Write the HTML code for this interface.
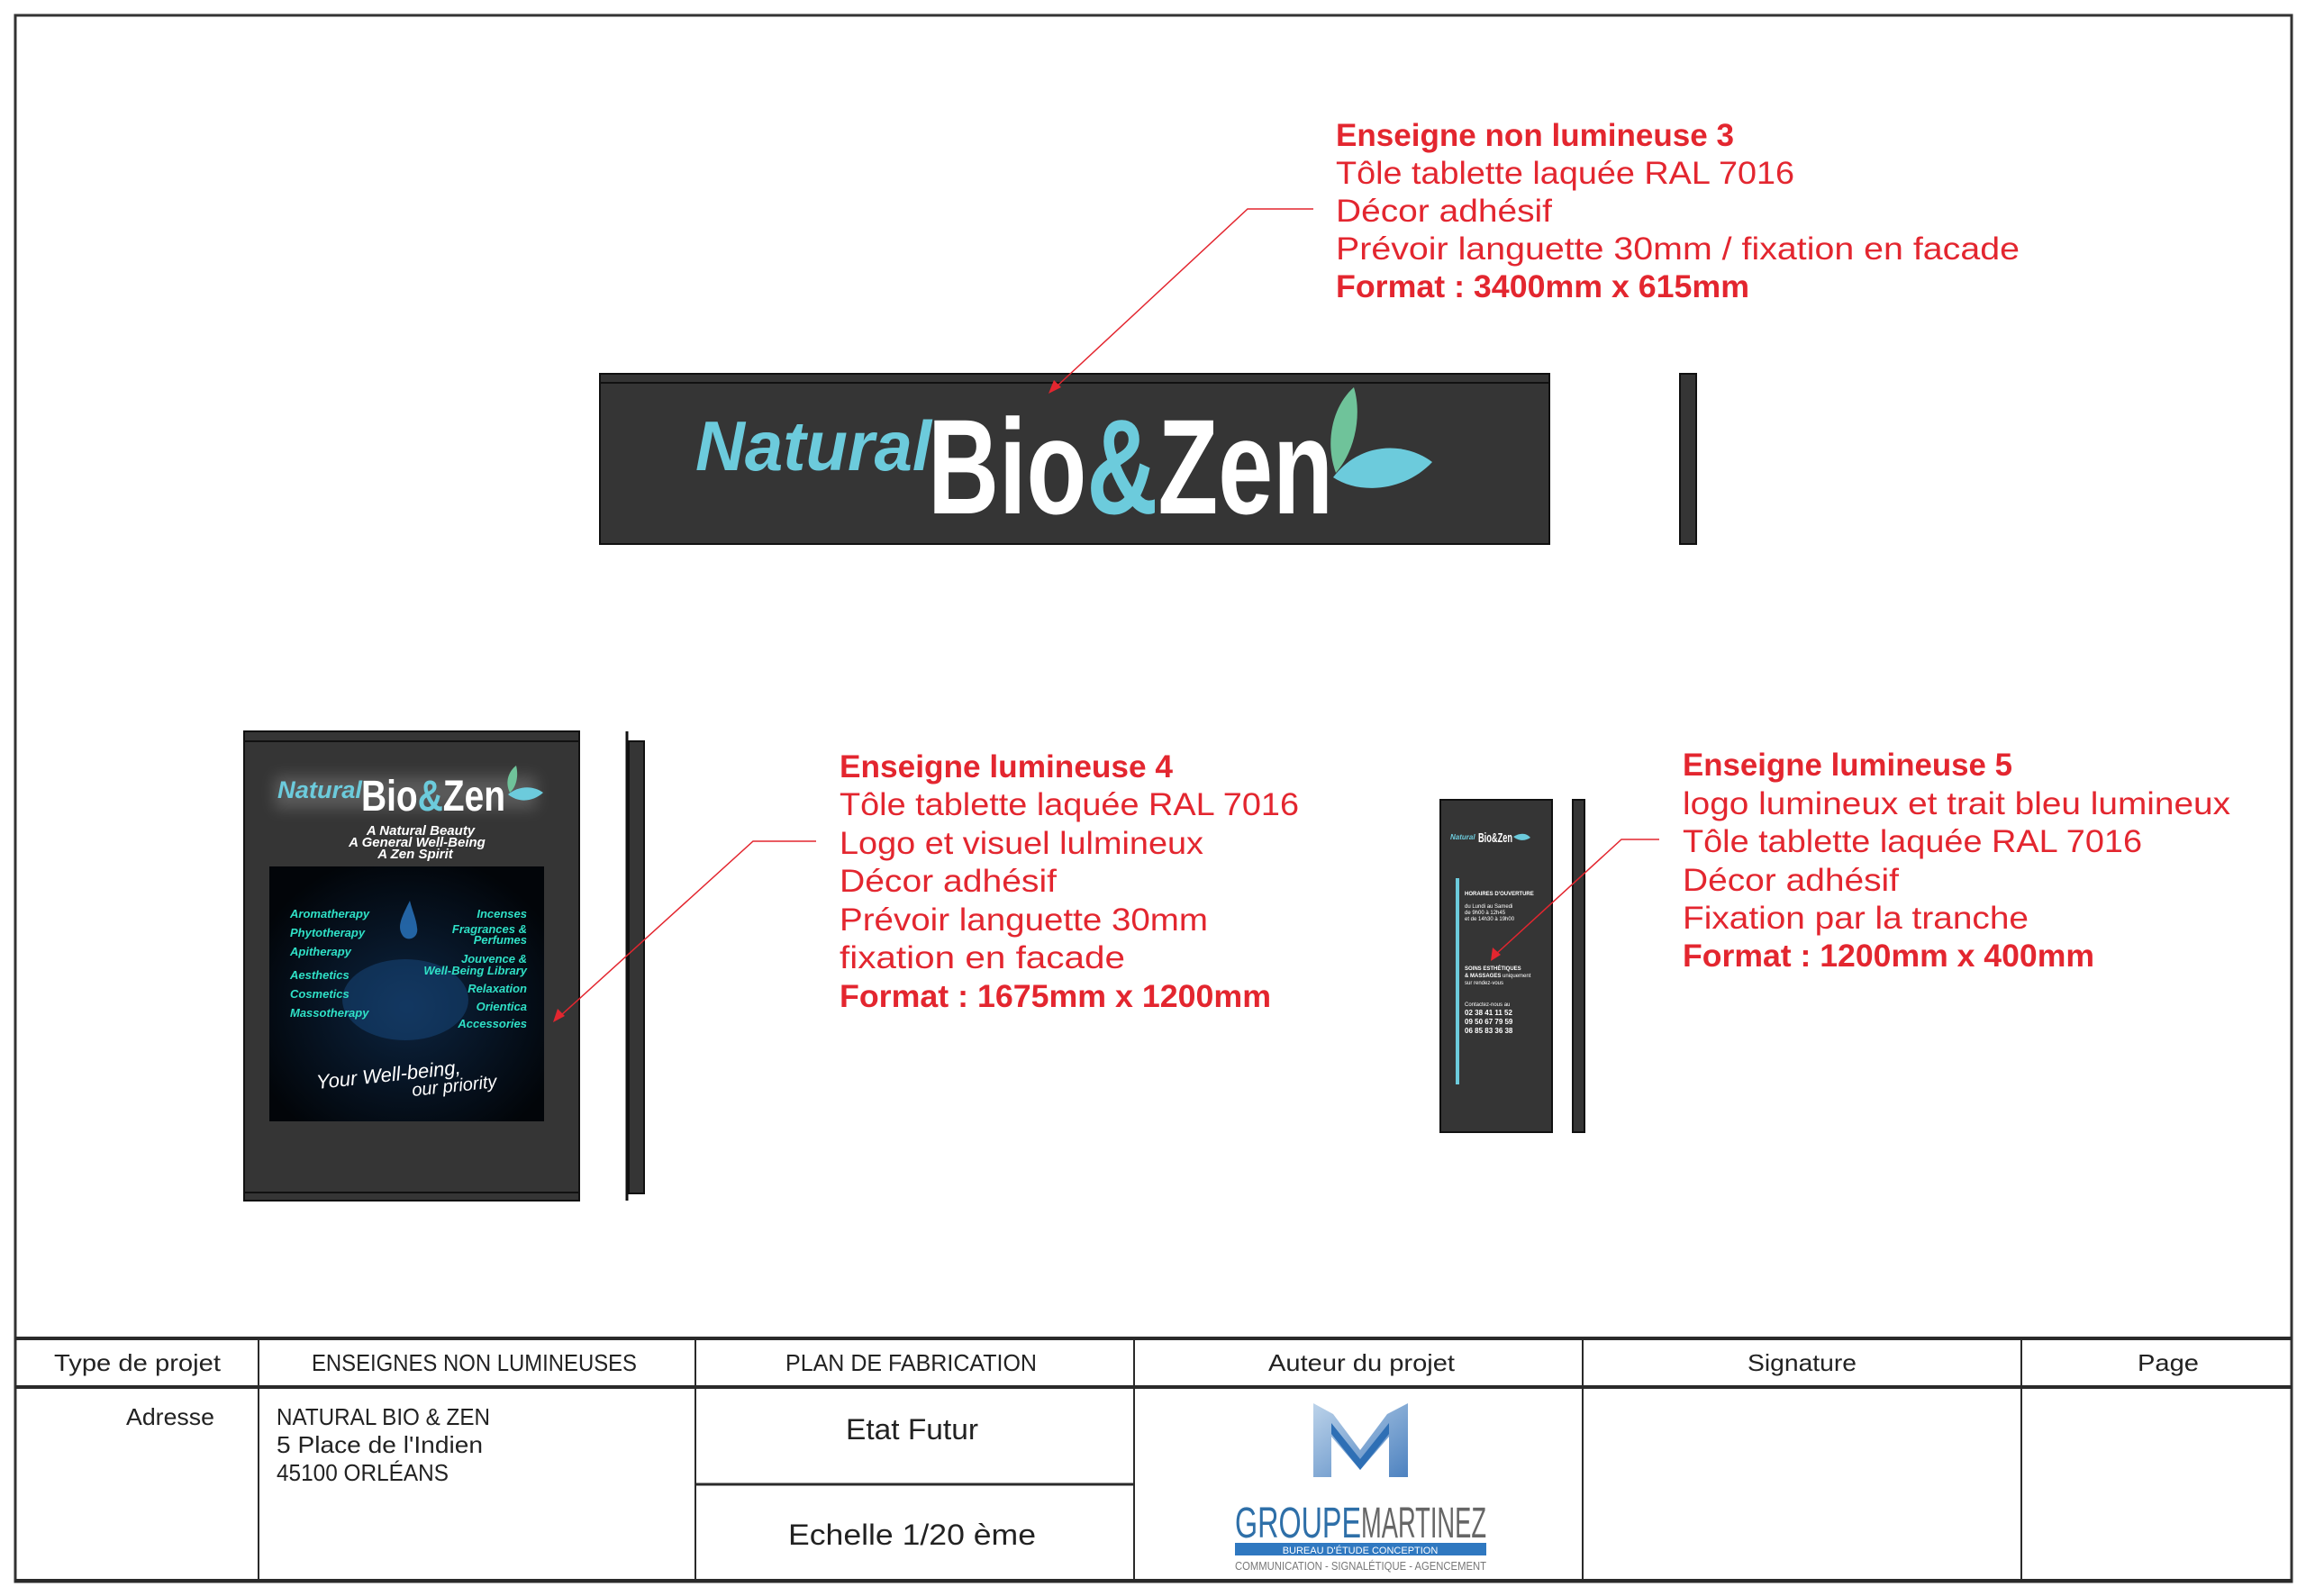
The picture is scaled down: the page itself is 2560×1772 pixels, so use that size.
<!DOCTYPE html>
<html><head><meta charset="utf-8"><style>
html,body{margin:0;padding:0;background:#fff}
svg{display:block}
text{font-family:"Liberation Sans","DejaVu Sans",sans-serif}
</style></head><body>
<svg width="2560" height="1772" viewBox="0 0 2560 1772" xmlns="http://www.w3.org/2000/svg">
<defs>
<radialGradient id="vis" cx="50%" cy="55%" r="60%"><stop offset="0" stop-color="#0c2440"/><stop offset="1" stop-color="#020509"/></radialGradient>
<filter id="glow" x="-20%" y="-50%" width="140%" height="200%"><feGaussianBlur stdDeviation="8"/></filter>
<linearGradient id="mg" x1="0" y1="0" x2="1" y2="1"><stop offset="0" stop-color="#bcd3ea"/><stop offset="1" stop-color="#4d82c0"/></linearGradient>
</defs>
<rect x="17" y="17" width="2527" height="1739" fill="none" stroke="#333" stroke-width="3"/>

<!-- SIGN 3 -->
<rect x="666" y="415" width="1054" height="189" fill="#353535" stroke="#111" stroke-width="2"/>
<line x1="666" y1="425" x2="1720" y2="425" stroke="#111" stroke-width="2"/>
<text x="772" y="522" font-size="78" font-style="italic" font-weight="bold" fill="#6ccbdc" textLength="262" lengthAdjust="spacingAndGlyphs">Natural</text>
<text x="1030" y="570" font-size="150" font-weight="bold" fill="#fff" textLength="450" lengthAdjust="spacingAndGlyphs">Bio<tspan fill="#6ccbdc">&amp;</tspan>Zen</text>
<path d="M1483 525 C1470 490 1480 450 1503 430 C1512 460 1505 500 1483 525Z" fill="#6fc39a"/>
<path d="M1480 530 C1510 490 1560 490 1590 513 C1560 545 1510 550 1480 530Z" fill="#6ccbdc"/>
<rect x="1865" y="415" width="18" height="189" fill="#353535" stroke="#111" stroke-width="2"/>

<!-- SIGN 4 -->
<rect x="271" y="812" width="372" height="521" fill="#353535" stroke="#111" stroke-width="2"/>
<line x1="271" y1="823" x2="643" y2="823" stroke="#111" stroke-width="2"/>
<line x1="271" y1="1324" x2="643" y2="1324" stroke="#111" stroke-width="2"/>
<g filter="url(#glow)" opacity="0.18"><rect x="305" y="862" width="290" height="36" fill="#fff"/></g>
<text x="308" y="886" font-size="27" font-style="italic" font-weight="bold" fill="#6ccbdc" textLength="94" lengthAdjust="spacingAndGlyphs">Natural</text>
<text x="401" y="900" font-size="48" font-weight="bold" fill="#fff" textLength="160" lengthAdjust="spacingAndGlyphs">Bio<tspan fill="#6ccbdc">&amp;</tspan>Zen</text>
<path d="M566 880 C560 868 565 856 573 850 C576 862 573 874 566 880Z" fill="#6fc39a"/>
<path d="M564 882 C576 872 592 872 603 880 C592 890 576 892 564 882Z" fill="#6ccbdc"/>
<g font-size="15" font-weight="bold" font-style="italic" fill="#fff" text-anchor="middle">
<text x="467" y="927">A Natural Beauty</text>
<text x="463" y="940">A General Well-Being</text>
<text x="461" y="953">A Zen Spirit</text>
</g>
<rect x="299" y="962" width="305" height="283" fill="url(#vis)"/>
<ellipse cx="450" cy="1110" rx="70" ry="45" fill="#1b4f8a" opacity="0.45"/>
<path d="M455 1000 C445 1020 440 1030 448 1040 C455 1046 465 1040 463 1030 C462 1020 458 1012 455 1000Z" fill="#2a78c4" opacity="0.8"/>
<g font-size="13" font-weight="bold" font-style="italic" fill="#2fe0c6">
<text x="322" y="1019">Aromatherapy</text>
<text x="322" y="1040">Phytotherapy</text>
<text x="322" y="1061">Apitherapy</text>
<text x="322" y="1087">Aesthetics</text>
<text x="322" y="1108">Cosmetics</text>
<text x="322" y="1129">Massotherapy</text>
<g text-anchor="end">
<text x="585" y="1019">Incenses</text>
<text x="585" y="1036">Fragrances &amp;</text>
<text x="585" y="1048">Perfumes</text>
<text x="585" y="1069">Jouvence &amp;</text>
<text x="585" y="1082">Well-Being Library</text>
<text x="585" y="1102">Relaxation</text>
<text x="585" y="1122">Orientica</text>
<text x="585" y="1141">Accessories</text>
</g></g>
<g font-family="Liberation Serif,serif" font-style="italic" fill="#fff">
<text x="352" y="1209" font-size="22" transform="rotate(-6 352 1209)">Your Well-being,</text>
<text x="458" y="1217" font-size="20" transform="rotate(-6 458 1217)">our priority</text>
</g>
<rect x="698" y="823" width="17" height="502" fill="#353535" stroke="#111" stroke-width="2"/>
<line x1="696" y1="812" x2="696" y2="1333" stroke="#111" stroke-width="3"/>

<!-- SIGN 5 -->
<rect x="1599" y="888" width="124" height="369" fill="#353535" stroke="#111" stroke-width="2"/>
<text x="1610" y="932" font-size="8" font-style="italic" font-weight="bold" fill="#6ccbdc">Natural</text>
<text x="1641" y="935" font-size="15" font-weight="bold" fill="#fff" textLength="38" lengthAdjust="spacingAndGlyphs">Bio&amp;Zen</text>
<path d="M1680 929 C1688 924 1695 925 1699 930 C1693 934 1686 934 1680 929Z" fill="#6ccbdc"/>
<rect x="1616" y="975" width="4" height="229" fill="#6ccbdc"/>
<g font-size="6" fill="#fff">
<text x="1626" y="994" font-weight="bold">HORAIRES D'OUVERTURE</text>
<text x="1626" y="1008">du Lundi au Samedi</text>
<text x="1626" y="1015">de 9h00 à 12h45</text>
<text x="1626" y="1022">et de 14h30 à 19h00</text>
<text x="1626" y="1077" font-weight="bold">SOINS ESTHÉTIQUES</text>
<text x="1626" y="1085"><tspan font-weight="bold">&amp; MASSAGES</tspan> uniquement</text>
<text x="1626" y="1093">sur rendez-vous</text>
<text x="1626" y="1117">Contactez-nous au</text>
<text x="1626" y="1127" font-size="8" font-weight="bold">02 38 41 11 52</text>
<text x="1626" y="1137" font-size="8" font-weight="bold">09 50 67 79 59</text>
<text x="1626" y="1147" font-size="8" font-weight="bold">06 85 83 36 38</text>
</g>
<rect x="1746" y="888" width="13" height="369" fill="#353535" stroke="#111" stroke-width="2"/>

<!-- LEADERS -->
<g stroke="#e3262f" stroke-width="1.5" fill="none">
<polyline points="1458,232 1385,232 1172,430"/>
<polyline points="906,934 836,934 622,1128"/>
<polyline points="1842,932 1800,932 1660,1060"/>
</g>
<g fill="#e3262f">
<polygon points="1164,437 1170,422 1178,430"/>
<polygon points="614,1135 619,1120 627,1128"/>
<polygon points="1655,1067 1657,1052 1666,1060"/>
</g>

<!-- TEXT -->
<g fill="#e3262f" font-size="35">
<text x="1483" y="162" font-weight="bold" textLength="442" lengthAdjust="spacingAndGlyphs">Enseigne non lumineuse 3</text>
<text x="1483" y="204" textLength="509" lengthAdjust="spacingAndGlyphs">Tôle tablette laquée RAL 7016</text>
<text x="1483" y="246" textLength="240" lengthAdjust="spacingAndGlyphs">Décor adhésif</text>
<text x="1483" y="288" textLength="759" lengthAdjust="spacingAndGlyphs">Prévoir languette 30mm / fixation en facade</text>
<text x="1483" y="330" font-weight="bold" textLength="459" lengthAdjust="spacingAndGlyphs">Format : 3400mm x 615mm</text>

<text x="932" y="863" font-weight="bold" textLength="370" lengthAdjust="spacingAndGlyphs">Enseigne lumineuse 4</text>
<text x="932" y="905" textLength="510" lengthAdjust="spacingAndGlyphs">Tôle tablette laquée RAL 7016</text>
<text x="932" y="948" textLength="404" lengthAdjust="spacingAndGlyphs">Logo et visuel lulmineux</text>
<text x="932" y="990" textLength="241" lengthAdjust="spacingAndGlyphs">Décor adhésif</text>
<text x="932" y="1033" textLength="409" lengthAdjust="spacingAndGlyphs">Prévoir languette 30mm</text>
<text x="932" y="1075" textLength="317" lengthAdjust="spacingAndGlyphs">fixation en facade</text>
<text x="932" y="1118" font-weight="bold" textLength="479" lengthAdjust="spacingAndGlyphs">Format : 1675mm x 1200mm</text>

<text x="1868" y="861" font-weight="bold" textLength="366" lengthAdjust="spacingAndGlyphs">Enseigne lumineuse 5</text>
<text x="1868" y="904" textLength="608" lengthAdjust="spacingAndGlyphs">logo lumineux et trait bleu lumineux</text>
<text x="1868" y="946" textLength="510" lengthAdjust="spacingAndGlyphs">Tôle tablette laquée RAL 7016</text>
<text x="1868" y="989" textLength="240" lengthAdjust="spacingAndGlyphs">Décor adhésif</text>
<text x="1868" y="1031" textLength="384" lengthAdjust="spacingAndGlyphs">Fixation par la tranche</text>
<text x="1868" y="1073" font-weight="bold" textLength="457" lengthAdjust="spacingAndGlyphs">Format : 1200mm x 400mm</text>
</g>

<!-- TITLE BLOCK -->
<g stroke="#2a2a2a" fill="none">
<line x1="17" y1="1486" x2="2544" y2="1486" stroke-width="4"/>
<line x1="17" y1="1540" x2="2544" y2="1540" stroke-width="4"/>
<line x1="17" y1="1755" x2="2544" y2="1755" stroke-width="4"/>
<line x1="772" y1="1648" x2="1259" y2="1648" stroke-width="3"/>
<g stroke-width="2">
<line x1="287" y1="1486" x2="287" y2="1755"/>
<line x1="772" y1="1486" x2="772" y2="1755"/>
<line x1="1259" y1="1486" x2="1259" y2="1755"/>
<line x1="1757" y1="1486" x2="1757" y2="1755"/>
<line x1="2244" y1="1486" x2="2244" y2="1755"/>
</g></g>
<g fill="#222" font-size="26">
<text x="60" y="1522" textLength="185" lengthAdjust="spacingAndGlyphs">Type de projet</text>
<text x="346" y="1522" textLength="361" lengthAdjust="spacingAndGlyphs">ENSEIGNES NON LUMINEUSES</text>
<text x="872" y="1522" textLength="279" lengthAdjust="spacingAndGlyphs">PLAN DE FABRICATION</text>
<text x="1408" y="1522" textLength="207" lengthAdjust="spacingAndGlyphs">Auteur du projet</text>
<text x="1940" y="1522" textLength="121" lengthAdjust="spacingAndGlyphs">Signature</text>
<text x="2373" y="1522" textLength="68" lengthAdjust="spacingAndGlyphs">Page</text>
<text x="140" y="1582" textLength="98" lengthAdjust="spacingAndGlyphs">Adresse</text>
<text x="307" y="1582" textLength="237" lengthAdjust="spacingAndGlyphs">NATURAL BIO &amp; ZEN</text>
<text x="307" y="1613" textLength="229" lengthAdjust="spacingAndGlyphs">5 Place de l'Indien</text>
<text x="307" y="1644" textLength="191" lengthAdjust="spacingAndGlyphs">45100 ORLÉANS</text>
<text x="939" y="1598" font-size="32" textLength="147" lengthAdjust="spacingAndGlyphs">Etat Futur</text>
<text x="875" y="1715" font-size="32" textLength="275" lengthAdjust="spacingAndGlyphs">Echelle 1/20 ème</text>
</g>
<path d="M1458 1558 L1480 1570 L1510 1610 L1540 1570 L1563 1558 L1563 1640 L1542 1640 L1542 1595 L1510 1632 L1478 1595 L1478 1640 L1458 1640Z" fill="url(#mg)"/>
<path d="M1478 1580 L1510 1620 L1542 1580 L1542 1592 L1510 1632 L1478 1592Z" fill="#2e6fb5"/>
<text x="1371" y="1707" font-size="48" fill="#2e6fa8" textLength="140" lengthAdjust="spacingAndGlyphs">GROUPE</text>
<text x="1511" y="1707" font-size="48" fill="#666" textLength="139" lengthAdjust="spacingAndGlyphs">MARTINEZ</text>
<rect x="1371" y="1713" width="279" height="14" fill="#2f78c0"/>
<text x="1510" y="1725" font-size="11" fill="#fff" text-anchor="middle">BUREAU D'ÉTUDE CONCEPTION</text>
<text x="1371" y="1743" font-size="13" fill="#777" textLength="279" lengthAdjust="spacingAndGlyphs">COMMUNICATION - SIGNALÉTIQUE - AGENCEMENT</text>
</svg>
</body></html>
